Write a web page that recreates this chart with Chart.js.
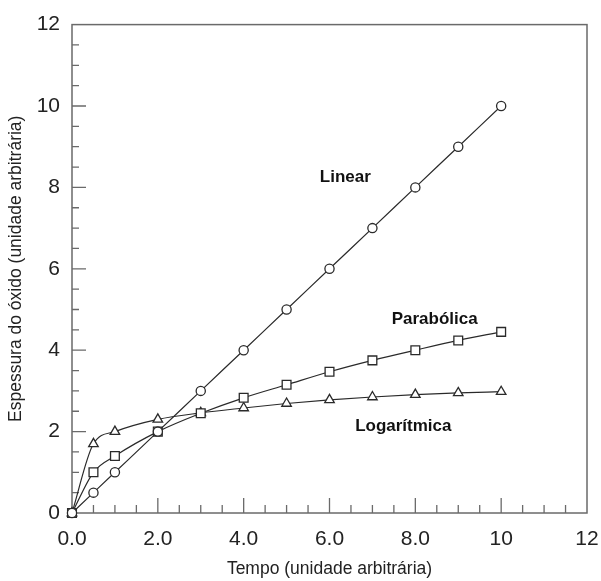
<!DOCTYPE html>
<html>
<head>
<meta charset="utf-8">
<script src="https://cdn.jsdelivr.net/npm/chart.js@4.4.0/dist/chart.umd.min.js"></script>
<style>
html,body{margin:0;padding:0;background:#fff;}
#wrap{width:601px;height:581px;position:relative;}
</style>
</head>
<body>
<div id="wrap"><canvas id="c" width="601" height="581"></canvas></div>
<script>
// Time values (arbitrary units)
const tempo = [0, 0.5, 1, 2, 3, 4, 5, 6, 7, 8, 9, 10];
// Oxide thickness
const linear = [0, 0.5, 1.0, 2.0, 3.0, 4.0, 5.0, 6.0, 7.0, 8.0, 9.0, 10.0];
const parabolica = [0, 1.0, 1.4, 2.0, 2.45, 2.83, 3.15, 3.47, 3.75, 4.0, 4.24, 4.45];
const logaritmica = [0, 1.7, 2.0, 2.3, 2.46, 2.58, 2.69, 2.78, 2.85, 2.91, 2.95, 2.98];
const seriesNames = ['Linear', 'Parabólica', 'Logarítmica'];
// Curve labels anchored in data units
const curveLabels = [
  {text: 'Linear', x: 6.37, y: 8.24},
  {text: 'Parabólica', x: 8.45, y: 4.75},
  {text: 'Logarítmica', x: 7.72, y: 2.13}
];
const xMajor = [0, 2, 4, 6, 8, 10, 12];
const yMajor = [0, 2, 4, 6, 8, 10, 12];

const FONT = "'Liberation Sans', Arial, sans-serif";
const LINE = '#2a2a2a';
const FRAME = '#6a6a6a';

function pts(ys){ return tempo.map((t,i)=>({x:t,y:ys[i]})); }

const framePlugin = {
  id: 'frame',
  beforeDatasetsDraw(chart){
    const {ctx, chartArea:a, scales:{x, y}} = chart;
    ctx.save();
    ctx.strokeStyle = FRAME;
    ctx.lineWidth = 1.5;
    ctx.strokeRect(a.left, a.top, a.right - a.left, a.bottom - a.top);
    ctx.lineWidth = 1.3;
    ctx.beginPath();
    x.ticks.forEach(tk => {
      if (tk.value === 0 || tk.value === 12) return;
      const px = x.getPixelForValue(tk.value);
      const len = xMajor.includes(tk.value) ? 15 : 8;
      ctx.moveTo(px, a.bottom); ctx.lineTo(px, a.bottom - len);
    });
    y.ticks.forEach(tk => {
      if (tk.value === 0 || tk.value === 12) return;
      const py = y.getPixelForValue(tk.value);
      const len = yMajor.includes(tk.value) ? 14 : 7;
      ctx.moveTo(a.left, py); ctx.lineTo(a.left + len, py);
    });
    ctx.stroke();
    ctx.restore();
  },
  afterDatasetsDraw(chart){
    const {ctx, scales:{x, y}} = chart;
    ctx.save();
    ctx.fillStyle = '#111';
    ctx.font = "bold 17px " + FONT;
    ctx.textAlign = 'center';
    ctx.textBaseline = 'middle';
    curveLabels.forEach(l => {
      ctx.fillText(l.text, x.getPixelForValue(l.x), y.getPixelForValue(l.y));
    });
    ctx.restore();
  }
};

const common = {
  borderColor: LINE,
  borderWidth: 1.2,
  pointBackgroundColor: '#fff',
  pointBorderColor: LINE,
  pointBorderWidth: 1.3,
  cubicInterpolationMode: 'monotone',
  fill: false,
  clip: false
};

new Chart(document.getElementById('c'), {
  type: 'line',
  data: {
    datasets: [
      Object.assign({label: seriesNames[0], data: pts(linear), pointStyle: 'circle', pointRadius: 4.6}, common),
      Object.assign({label: seriesNames[1], data: pts(parabolica), pointStyle: 'rect', pointRadius: 6.2}, common),
      Object.assign({label: seriesNames[2], data: pts(logaritmica), pointStyle: 'triangle', pointRadius: 5.5}, common)
    ]
  },
  options: {
    responsive: false,
    animation: false,
    events: [],
    layout: {padding: {top: 23, right: 14, left: 0, bottom: 0}},
    plugins: {legend: {display: false}, tooltip: {enabled: false}},
    scales: {
      x: {
        type: 'linear', min: 0, max: 12,
        grid: {display: false, drawTicks: false},
        border: {display: false},
        ticks: {
          stepSize: 0.5, autoSkip: false, maxRotation: 0, padding: 14,
          color: '#222', font: {family: FONT, size: 21},
          callback: v => xMajor.includes(v) ? (v < 10 ? v.toFixed(1) : String(v)) : ''
        },
        title: {display: true, text: 'Tempo (unidade arbitrária)', color: '#222',
          font: {family: FONT, size: 17.5}, padding: {top: 0, bottom: 1}},
        afterFit: s => { s.height = 68; s.paddingRight = 0; }
      },
      y: {
        type: 'linear', min: 0, max: 12,
        grid: {display: false, drawTicks: false},
        border: {display: false},
        ticks: {
          stepSize: 0.5, autoSkip: false, padding: 12,
          color: '#222', font: {family: FONT, size: 21},
          callback: v => yMajor.includes(v) ? String(v) : ''
        },
        title: {display: true, text: 'Espessura do óxido (unidade arbitrária)', color: '#222',
          font: {family: FONT, size: 17.5}, padding: {top: 5.5, bottom: 0}},
        afterFit: s => { s.width = 72; }
      }
    }
  },
  plugins: [framePlugin]
});
</script>
</body>
</html>
